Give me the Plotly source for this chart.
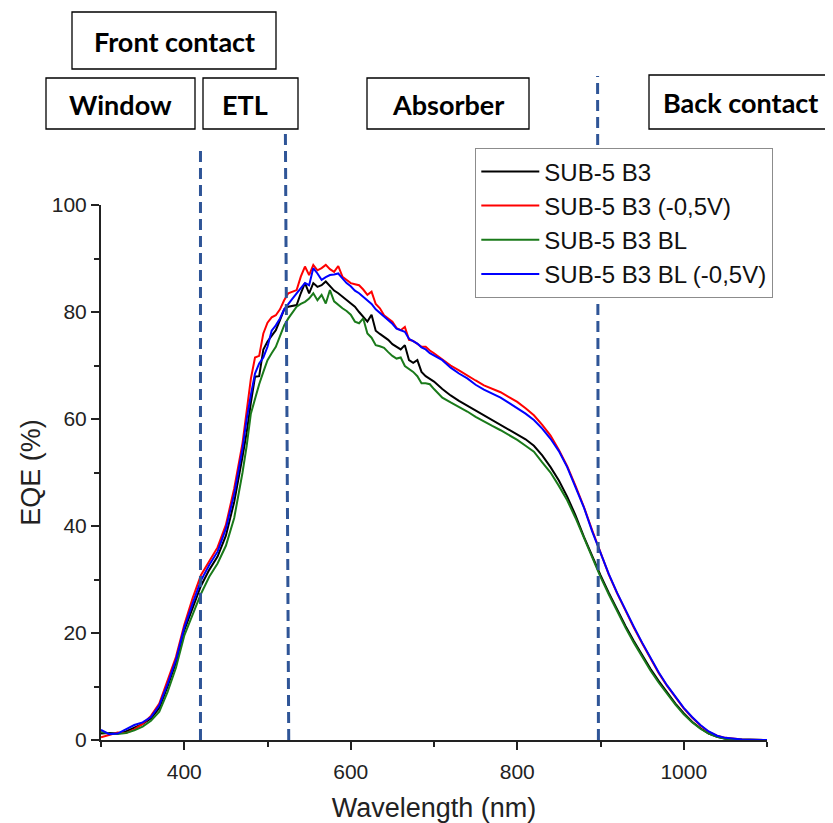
import plotly.graph_objects as go

# ---------------- data ----------------
wavelength = [300, 310, 320, 330, 340, 350, 360, 370, 380, 390, 400, 410, 420, 430, 440, 450, 460, 470,
              475, 480, 485, 490, 495, 500, 505, 510, 515, 520, 525, 530, 535, 540, 545, 550, 555, 560,
              565, 570, 575, 580, 585, 590, 595, 600, 605, 610, 615, 620, 625, 630, 635, 640, 645, 650,
              655, 660, 665, 670, 675, 680, 685, 690, 695, 700,
              710, 720, 730, 740, 750, 760, 770, 780, 790, 800, 810, 820, 830, 840, 850, 860, 870, 880,
              890, 900, 910, 920, 930, 940, 950, 960, 970, 980, 990, 1000, 1010, 1020, 1030, 1040, 1050,
              1060, 1070, 1080, 1090, 1100]

eqe_b3 = [1.2, 1.3, 1.2, 1.6, 2.3, 3.0, 4.0, 6.0, 10.0, 14.5, 20.5, 24.8, 28.8, 31.8, 34.3, 38.2, 44.5, 53.0,
          57.5, 63.0, 67.9, 68.0, 73.0, 74.5, 75.5, 76.6, 78.5, 80.5, 81.0, 81.2, 81.3, 83.5, 85.4, 83.5, 85.4, 84.7,
          85.0, 85.7, 84.8, 84.0, 83.5, 82.9, 82.2, 81.6, 81.0, 80.0, 79.1, 78.2, 79.5, 76.5, 75.9, 75.4, 74.8, 74.0,
          73.5, 73.0, 73.8, 71.0, 70.5, 71.0, 68.8, 68.0, 67.5, 67.0,
          65.6, 64.4, 63.4, 62.5, 61.6, 60.7, 59.8, 58.9, 58.1, 57.2, 56.2, 55.0, 53.2, 51.0, 48.5, 45.5, 42.0, 38.0,
          34.3, 30.8, 27.5, 24.3, 21.3, 18.5, 15.8, 13.3, 11.0, 8.8, 6.8, 5.0, 3.4, 2.2, 1.2, 0.6, 0.25,
          0.1, 0.05, 0.02, 0.0, 0.0]

eqe_b3_bias = [0.5, 1.0, 1.4, 1.3, 2.0, 3.0, 4.5, 6.8, 11.0, 15.5, 21.5, 26.5, 30.8, 33.3, 36.0, 40.2, 47.0, 55.5,
               61.0, 67.5, 71.5, 71.8, 76.0, 78.0, 79.0, 79.4, 80.5, 82.2, 83.5, 83.8, 84.1, 86.6, 88.5, 86.9, 88.8, 87.8,
               88.2, 88.8, 88.0, 87.5, 88.6, 86.6, 86.0, 85.4, 85.2, 85.0, 84.2, 83.2, 83.8, 81.5, 80.7, 79.4, 78.8, 78.2,
               77.0, 76.6, 77.2, 74.8, 74.6, 74.1, 73.5, 73.5, 72.8, 72.3,
               71.2, 70.0, 69.1, 68.1, 67.2, 66.3, 65.7, 65.0, 64.1, 63.2, 62.0, 60.7, 58.9, 56.9, 54.2, 51.2, 47.5, 43.6,
               39.2, 35.0, 30.9, 27.4, 24.1, 21.0, 18.1, 15.2, 12.5, 10.1, 7.9, 5.9, 4.2, 2.7, 1.5, 0.8, 0.4,
               0.2, 0.1, 0.05, 0.02, 0.0]

eqe_b3_bl = [1.5, 1.2, 1.1, 1.3, 1.8, 2.5, 3.6, 5.3, 9.0, 13.5, 19.5, 23.5, 27.3, 30.5, 33.0, 36.3, 41.5, 50.0,
             55.0, 61.0, 64.0, 66.5, 68.8, 71.0, 72.3, 73.5, 75.5, 77.5, 78.8, 80.0, 81.0, 81.5, 81.9, 82.5, 83.5, 82.2,
             83.2, 81.6, 84.1, 82.0, 81.3, 80.7, 80.2, 79.5, 78.2, 77.9, 78.8, 76.0, 75.2, 73.8, 73.6, 73.3, 72.5, 71.8,
             71.3, 71.5, 69.9, 69.3, 68.8, 68.0, 66.7, 66.7, 66.5, 65.6,
             64.0, 63.1, 62.3, 61.4, 60.4, 59.5, 58.7, 57.9, 57.0, 56.1, 55.0, 53.9, 51.9, 50.0, 47.5, 44.8, 41.5, 37.8,
             34.0, 30.5, 27.2, 24.0, 21.0, 18.2, 15.5, 13.0, 10.7, 8.6, 6.6, 4.8, 3.3, 2.1, 1.2, 0.6, 0.25,
             0.1, 0.05, 0.02, 0.0, 0.0]

eqe_b3_bl_bias = [1.9, 1.1, 1.2, 2.0, 2.8, 3.3, 4.3, 6.5, 10.5, 15.0, 21.0, 25.5, 29.8, 32.7, 35.2, 39.5, 46.0, 54.5,
                  60.0, 64.5, 68.5, 70.4, 71.5, 73.5, 76.5, 77.5, 78.8, 80.5, 81.6, 82.5, 83.5, 84.5, 85.4, 85.0, 88.2, 87.2,
                  86.0, 86.5, 86.9, 87.0, 87.2, 86.3, 85.4, 84.8, 84.0, 83.5, 82.8, 82.2, 81.5, 80.5, 79.8, 79.2, 78.5, 77.8,
                  76.9, 76.6, 76.3, 75.0, 74.6, 74.1, 73.4, 73.0, 72.3, 71.9,
                  71.0, 69.6, 68.5, 67.6, 66.4, 65.5, 64.8, 64.0, 63.0, 62.0, 61.0, 59.8, 58.2, 56.3, 54.0, 51.0, 47.3, 43.5,
                  39.0, 35.0, 31.0, 27.5, 24.2, 21.2, 18.2, 15.3, 12.6, 10.2, 8.0, 6.0, 4.3, 2.8, 1.6, 0.8, 0.4,
                  0.2, 0.1, 0.05, 0.02, 0.0]

series_names = ["SUB-5 B3", "SUB-5 B3 (-0,5V)", "SUB-5 B3 BL", "SUB-5 B3 BL (-0,5V)"]
series_colors = ["#000000", "#FF0000", "#1A7A1A", "#0000FF"]

# layer boundaries (nm): bottom and top of each dashed separator
boundary_bottom = [419.5, 525.5, 897.5]
boundary_top = [419.5, 521.5, 896.5]

layer_labels = ["Front contact", "Window", "ETL", "Absorber", "Back contact"]

# ---------------- figure ----------------
# the page body has an 8 px margin, so the figure is 8 px smaller and margins shifted
PAGE_OFF = 8
W, H = 825, 815
L, R, T, B = 93, 66, 197, 83
pw, ph = W - L - R, H - T - B


def px(xp):  # page pixel -> paper
    return (xp - PAGE_OFF - L) / pw


def py(yp):  # page pixel -> paper
    return (H - B - (yp - PAGE_OFF)) / ph


fig = go.Figure()
for name, vals, col in zip(series_names, [eqe_b3, eqe_b3_bias, eqe_b3_bl, eqe_b3_bl_bias], series_colors):
    fig.add_trace(go.Scatter(x=wavelength, y=vals, mode="lines", name=name,
                             line=dict(color=col, width=2)))

axis_font = "Liberation Sans, Arial, sans-serif"

# dashed separators
sep_tops_px = [147, 133, 76]
for xb, xt, tp in zip(boundary_bottom, boundary_top, sep_tops_px):
    fig.add_shape(type="line", xref="x", yref="paper", x0=xb, x1=xt, y0=0, y1=py(tp),
                  line=dict(color="#2F5597", width=3, dash="11px,6px"), layer="above")

# layer boxes (page pixel boxes: x0, x1, y0, y1)
boxes = [(72, 276, 12, 69), (46, 195, 78, 129), (203, 298, 78, 129), (367, 529, 78, 129), (649, 832, 75, 129)]
for (x0, x1, y0, y1), lab in zip(boxes, layer_labels):
    fig.add_shape(type="rect", xref="paper", yref="paper", x0=px(x0), x1=px(x1), y0=py(y1), y1=py(y0),
                  line=dict(color="#000000", width=1.3), fillcolor="white", layer="above")
    cx = (x0 + x1) / 2
    if lab == "ETL":
        cx = 245
    fig.add_annotation(xref="paper", yref="paper", x=px(cx), y=py((y0 + y1) / 2 + 1), text="<b>%s</b>" % lab,
                       showarrow=False, xanchor="center", yanchor="middle",
                       font=dict(family="Lato, Open Sans, sans-serif", size=27, color="#000000"))

fig.update_layout(
    width=W, height=H,
    margin=dict(l=L, r=R, t=T, b=B, autoexpand=False),
    paper_bgcolor="white", plot_bgcolor="white",
    showlegend=True,
    legend=dict(x=px(475), y=py(148), xanchor="left", yanchor="top",
                bordercolor="#8C8C8C", borderwidth=1.3, bgcolor="white",
                font=dict(family=axis_font, size=24, color="#111111"),
                itemwidth=58, tracegroupgap=0),
    xaxis=dict(range=[300, 1100], tick0=400, dtick=200, ticks="outside", ticklen=8, tickwidth=2,
               tickcolor="#222222", showline=True, linecolor="#222222", linewidth=2,
               showgrid=False, zeroline=False, mirror=False, ticklabelstandoff=4,
               tickfont=dict(family=axis_font, size=21, color="#222222"),
               minor=dict(ticks="outside", ticklen=5, dtick=100, tick0=300, tickcolor="#222222", tickwidth=2,
                          showgrid=False),
               title=dict(text="Wavelength (nm)", font=dict(family=axis_font, size=27, color="#222222"),
                          standoff=18)),
    yaxis=dict(range=[0, 100], tick0=0, dtick=20, ticks="outside", ticklen=8, tickwidth=2,
               tickcolor="#222222", showline=True, linecolor="#222222", linewidth=2,
               showgrid=False, zeroline=False, mirror=False,
               tickfont=dict(family=axis_font, size=21, color="#222222"),
               minor=dict(ticks="outside", ticklen=5, dtick=10, tickcolor="#222222", tickwidth=2, showgrid=False),
               title=dict(text="EQE (%)", font=dict(family=axis_font, size=27, color="#222222"),
                          standoff=3)),
)

fig.write_html("out.html")
